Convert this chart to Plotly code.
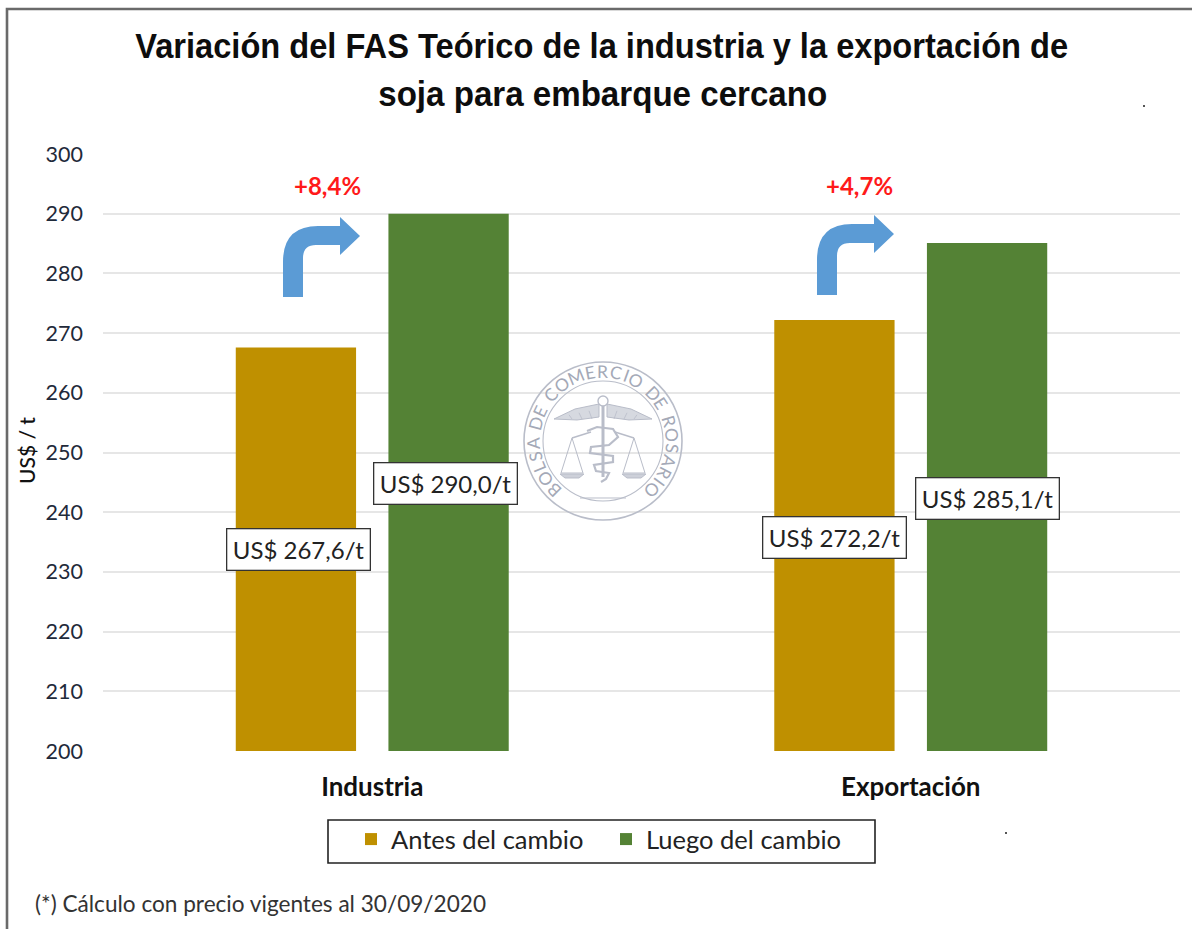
import math
import plotly.graph_objects as go

categories = ["Industria", "Exportación"]
antes = [267.6, 272.2]
luego = [290.0, 285.1]
tick_vals = list(range(200, 301, 10))
cambio = ["+8,4%", "+4,7%"]

W, H = 1192, 929
L, R, T, B = 103, 1180, 154, 751
BODY = "Lato"
def fmt(v):
    return f"US$ {v:.1f}/t".replace(".", ",")
def X(p): return (p - L) / (R - L)
def Y(p): return (B - p) / (B - T)

fig = go.Figure()
fig.add_bar(name="Antes del cambio", x=categories, y=antes, marker_color="#BF9000", marker_line_width=0)
fig.add_bar(name="Luego del cambio", x=categories, y=luego, marker_color="#548235", marker_line_width=0)

anns, shapes = [], []
def text(px, py, s, size, color="#1a1a1a", family=BODY, angle=0, weight=None, **kw):
    f = dict(size=size, color=color, family=family)
    if weight: f["weight"] = weight
    anns.append(dict(xref="paper", yref="paper", x=X(px), y=Y(py), text=s, showarrow=False,
                     font=f, textangle=angle, xanchor="center", yanchor="middle", **kw))

# title
text(601.5, 46, "Variación del FAS Teórico de la industria y la exportación de", 35.5, "#0d0d0d", "Liberation Sans", weight="bold")
text(602.5, 94, "soja para embarque cercano", 35.5, "#0d0d0d", "Liberation Sans", weight="bold")
text(26, 451, "US$ / t", 21, "#111111", angle=-90, weight=500)
text(260, 903, "(*) Cálculo con precio vigentes al 30/09/2020", 22.6, "#333333", BODY)

# legend frame
shapes.append(dict(type="rect", xref="paper", yref="paper", x0=X(328), x1=X(875), y0=Y(863), y1=Y(820),
                   line=dict(color="#222222", width=1.6), fillcolor="white"))

# value boxes
for (px, py, v) in [(298, 549, antes[0]), (445, 483, luego[0]), (834, 537, antes[1]), (987, 498, luego[1])]:
    text(px, py, fmt(v), 24, "#222222", bgcolor="white", bordercolor="#333333", borderwidth=1.3, borderpad=5.5)

# change labels
text(327, 186, cambio[0], 24, "#FF1A1A", weight="bold")
text(859, 186, cambio[1], 24, "#FF1A1A", weight="bold")

# curved arrows
def arrow(dx, dy):
    def q(x, y): return f"{X(x+dx):.5f} {Y(y+dy):.5f}"
    path = ("M " + q(283, 297) + " L " + q(303, 297) + " L " + q(303, 258) +
            " Q " + q(303, 245) + " " + q(316, 245) + " L " + q(340, 245) + " L " + q(340, 255) +
            " L " + q(360, 236) + " L " + q(340, 217) + " L " + q(340, 226) + " L " + q(318, 226) +
            " Q " + q(283, 226) + " " + q(283, 262) + " Z")
    shapes.append(dict(type="path", xref="paper", yref="paper", path=path, fillcolor="#5B9BD5", line_width=0))
arrow(0, 0)
arrow(534, -2)

# watermark seal
SEAL = "#b9bdc9"
cx, cy = 603, 441
def circle(r, w=1.4):
    shapes.append(dict(type="circle", xref="paper", yref="paper", x0=X(cx-r), x1=X(cx+r), y0=Y(cy+r), y1=Y(cy-r),
                       line=dict(color=SEAL, width=w), fillcolor="rgba(255,255,255,0)"))
def seg(pts, w=1.3, fill=None):
    path = "M " + " L ".join(f"{X(cx+a):.5f} {Y(cy+b):.5f}" for a, b in pts)
    if fill: path += " Z"
    shapes.append(dict(type="path", xref="paper", yref="paper", path=path,
                       line=dict(color=SEAL, width=w), fillcolor=fill))
circle(79, 1.6)
circle(60, 1.1)
letters = "BOLSA DE COMERCIO DE ROSARIO"
widths = {" ": 0.55, "I": 0.5, "M": 1.3, "O": 1.15, "C": 1.05, "R": 1.0, "E": 0.9, "L": 0.85, "S": 0.9}
ws = [widths.get(c, 1.0) for c in letters]
arc = 270 / (sum(ws) - ws[0] / 2 - ws[-1] / 2)
pos = -135
for i, ch in enumerate(letters):
    if i:
        pos += (ws[i-1] + ws[i]) / 2 * arc
    if ch == " ":
        continue
    r = 69.5
    text(cx + r * math.sin(math.radians(pos)), cy - r * math.cos(math.radians(pos)), ch, 17.5, "#a4a9b7", angle=pos)
# wings
for s in (-1, 1):
    seg([(s*49, -22), (s*28, -32), (s*4, -37), (s*4, -24), (s*26, -21)], 1, "#d6d9e0")
    for k in (14, 24, 34):
        seg([(s*k, -33 + k*0.2), (s*(k-3), -22)], 0.8)
# staff and head
seg([(0, -38), (0, 36)], 3)
shapes.append(dict(type="circle", xref="paper", yref="paper", x0=X(cx-5), x1=X(cx+5), y0=Y(cy-35), y1=Y(cy-45),
                   line=dict(color=SEAL, width=1.4), fillcolor="white"))
# snake
seg([(-16,-10),(-6,-14),(10,-12),(15,-4),(6,4),(-12,6),(-13,12),(10,15),(10,21),(-9,24),(-7,30),(6,32),(3,38),(-2,41)], 2.2)
# beam and scales
for s in (-1, 1):
    seg([(s*31,-3),(s*12,-9)], 1.5)
    seg([(s*31,-3),(s*20,32),(s*42,32),(s*31,-3)], 1)
    seg([(s*19,33),(s*43,33),(s*38,37),(s*24,37)], 1, "#cdd0d9")
seg([(-23,57),(23,57)], 1)

# specks
for sx, sy in [(1144, 106), (1006, 833)]:
    shapes.append(dict(type="rect", xref="paper", yref="paper", x0=X(sx-1), x1=X(sx+1), y0=Y(sy+1), y1=Y(sy-1),
                       fillcolor="#555555", line_width=0))
# image frame
shapes.append(dict(type="path", xref="paper", yref="paper",
                   path=f"M {X(7)} {Y(929)} L {X(7)} {Y(9)} L {X(1192)} {Y(9)}",
                   line=dict(color="#6a6a6a", width=2.6)))

fig.update_layout(
    width=W, height=H, autosize=False,
    margin=dict(l=L, r=W-R, t=T, b=H-B),
    paper_bgcolor="white", plot_bgcolor="white",
    barmode="group", bargap=0.433, bargroupgap=0.212,
    font=dict(family=BODY, color="#222222"),
    annotations=anns, shapes=shapes,
    legend=dict(orientation="h", xref="paper", yref="paper", x=X(351), y=Y(816), xanchor="left", yanchor="top",
                borderwidth=0, bgcolor="rgba(0,0,0,0)", entrywidth=210, entrywidthmode="pixels",
                font=dict(size=25.5, color="#222222", family=BODY), itemclick=False, traceorder="normal"),
    xaxis=dict(type="category", showgrid=False, showline=False, ticks="", ticklen=0,
               tickfont=dict(size=26, color="#111111", family=BODY, weight="bold"), ticklabelstandoff=18),
    yaxis=dict(range=[200, 300], tickmode="array", tickvals=tick_vals, showgrid=True, gridcolor="#e6e6e6", gridwidth=1.6,
               zeroline=False, showline=False, ticks="", tickfont=dict(size=21.5, color="#1f2a3a", family=BODY),
               ticklabelstandoff=19),
)
post = """
document.body.style.margin='0';
document.querySelectorAll('.annotation-text').forEach(function(t){
  var s=t.textContent;
  if(s.indexOf('Variación')===0){t.setAttribute('textLength','933');t.setAttribute('lengthAdjust','spacingAndGlyphs');}
  if(s.indexOf('soja para')===0){t.setAttribute('textLength','449');t.setAttribute('lengthAdjust','spacingAndGlyphs');}
});
"""
fig.write_html("out.html", post_script=post, config=dict(displayModeBar=False))
